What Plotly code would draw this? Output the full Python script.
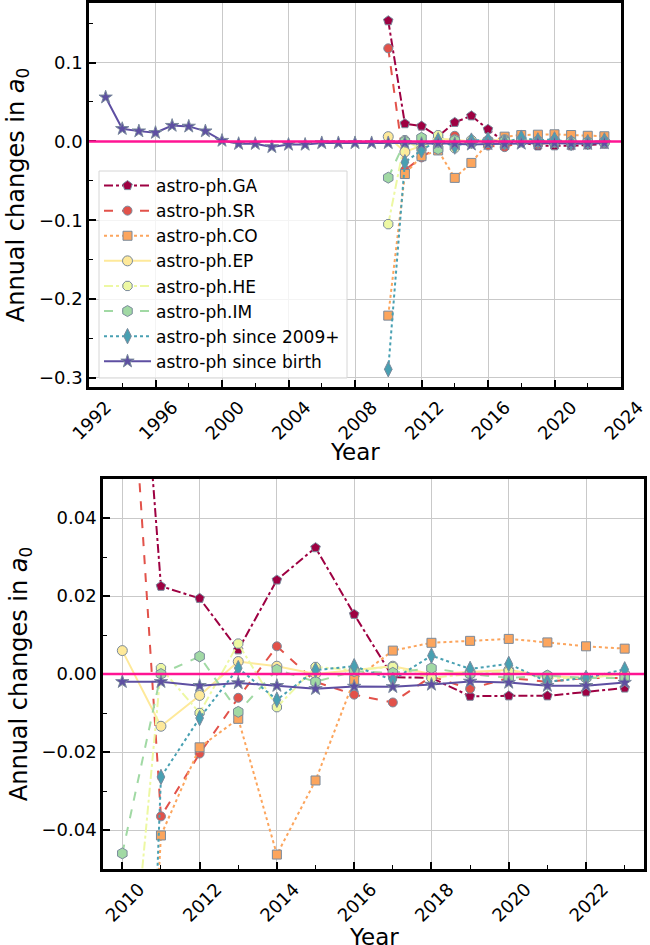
import plotly.graph_objects as go

# ---------------- data ----------------
years_birth = list(range(1993, 2024))
birth = [0.056, 0.016, 0.013, 0.011, 0.020, 0.019, 0.013, 0.001, -0.003, -0.003,
         -0.007, -0.004, -0.004, -0.002, -0.002, -0.002, -0.002,
         -0.002, -0.002, -0.003, -0.0023, -0.003, -0.0038, -0.0032, -0.0033,
         -0.0027, -0.0019, -0.0022, -0.003, -0.003, -0.0022]

years = list(range(2010, 2024))
ga = [0.153, 0.0225, 0.0194, 0.0062, 0.0241, 0.0324, 0.0153, -0.0008, -0.001,
      -0.0057, -0.0056, -0.0056, -0.0046, -0.0036]
sr = [0.118, -0.0365, -0.0204, -0.0061, 0.0071, -0.002, -0.0053, -0.0073, -0.0006,
      -0.0038, -0.001, -0.002, -0.001, -0.001]
co = [-0.221, -0.0414, -0.0188, -0.0115, -0.0463, -0.0273, -0.0015, 0.006, 0.008,
      0.0085, 0.009, 0.0081, 0.0071, 0.0065]
ep = [0.006, -0.0134, -0.0055, 0.0032, 0.002, 0.0, 0.001, 0.002, 0.0, 0.0005,
      0.001, -0.0005, -0.001, 0.0]
he = [-0.105, 0.0015, -0.010, 0.0078, -0.0085, 0.0018, 0.001, 0.0018, -0.001, 0.0,
      0.0007, -0.001, -0.001, 0.0]
im = [-0.046, 0.0, 0.0045, -0.0097, 0.0011, -0.002, 0.0007, 0.0003, 0.0015, 0.0,
      -0.001, -0.0004, -0.001, -0.001]
since2009 = [-0.289, -0.0264, -0.0113, 0.0015, -0.0066, 0.001, 0.002, -0.0015,
             0.0047, 0.0013, 0.0026, -0.002, -0.001, 0.0012]

names = ["astro-ph.GA", "astro-ph.SR", "astro-ph.CO", "astro-ph.EP", "astro-ph.HE",
         "astro-ph.IM", "astro-ph since 2009+", "astro-ph since birth"]
colors = ["#9e0142", "#e2524a", "#fca55d", "#fee99a", "#edf8a3", "#a1d9a4",
          "#48a0b2", "#5e4fa2"]
symbols = ["pentagon", "circle", "square", "circle", "octagon", "hexagon",
           "diamond-tall", "star"]
dashes = ["dashdot", "dash", "dot", "solid", "dashdot", "dash", "dot", "solid"]
msizes = [10, 9, 9, 10, 10, 11, 11, 10]

zero_level = 0.0
x_title = "Year"
y_title = "Annual changes in <i>a</i><sub>0</sub>"

series = [(years, ga), (years, sr), (years, co), (years, ep), (years, he),
          (years, im), (years, since2009), (years_birth, birth)]

FONT = "DejaVu Sans"
EDGE = "#7a8a9c"

fig = go.Figure()
for i, (xs, ys) in enumerate(series):
    for panel in (1, 2):
        if panel == 2 and xs is years_birth:
            xx = [x for x in xs if x >= 2010]
            yy = [y for x, y in zip(xs, ys) if x >= 2010]
        else:
            xx, yy = xs, ys
        fig.add_trace(go.Scatter(
            x=xx, y=yy, name=names[i], mode="lines+markers",
            line=dict(color=colors[i], width=2, dash=dashes[i]),
            marker=dict(symbol=symbols[i], size=msizes[i], color=colors[i],
                        line=dict(color=EDGE, width=1)),
            showlegend=(panel == 1),
            xaxis="x" if panel == 1 else "x2",
            yaxis="y" if panel == 1 else "y2",
        ))

axis_common = dict(
    showline=True, mirror=True, linewidth=2.5, linecolor="black",
    ticks="inside", ticklen=7, tickwidth=1.5, tickcolor="black",
    showgrid=True, gridcolor="#c9c9c9", gridwidth=1, zeroline=False,
    automargin=False,
    tickfont=dict(family=FONT, size=18, color="black"),
)

def minor(d):
    return dict(ticks="inside", ticklen=4, tickwidth=1.2, dtick=d,
                tickcolor="black", showgrid=False)

ytitle = dict(text=y_title, font=dict(family=FONT, size=24), standoff=8)

W, H = 650, 945
fig.update_layout(
    width=W, height=H,
    margin=dict(l=0, r=0, t=0, b=0),
    paper_bgcolor="white", plot_bgcolor="white",
    font=dict(family=FONT, color="black"),
    xaxis=dict(domain=[89/W, 621/W], range=[1992, 2024], dtick=4, tick0=1992,
               tickangle=-45, ticklabelshift=17, anchor="y", minor=minor(2),
               **axis_common),
    yaxis=dict(domain=[1-387/H, 1-3/H], range=[-0.3115, 0.1755], dtick=0.1,
               tickformat=".1f", anchor="x", minor=minor(0.05), title=ytitle,
               **axis_common),
    xaxis2=dict(domain=[103/W, 644/W], range=[2009.5, 2023.5], dtick=2, tick0=2010,
                tickangle=-45, ticklabelshift=17, anchor="y2", minor=minor(1),
                **axis_common),
    yaxis2=dict(domain=[1-869/H, 1-479/H], range=[-0.05, 0.05], dtick=0.02,
                tickformat=".2f", anchor="x2", minor=minor(0.01), title=ytitle,
                **axis_common),
    legend=dict(x=99/W, y=1-168/H, xanchor="left", yanchor="top",
                bgcolor="rgba(0,0,0,0)", borderwidth=0,
                font=dict(family=FONT, size=17, color="black"),
                itemwidth=47, tracegroupgap=0),
    annotations=[
        dict(text=x_title, xref="x domain", yref="paper", x=0.5, y=1-437/H,
             xanchor="center", yanchor="top", showarrow=False,
             font=dict(family=FONT, size=23, color="black")),
        dict(text=x_title, xref="x2 domain", yref="paper", x=0.5, y=1-922/H,
             xanchor="center", yanchor="top", showarrow=False,
             font=dict(family=FONT, size=23, color="black")),
    ],
    shapes=[
        dict(type="rect", xref="paper", yref="paper", x0=99/W, x1=347/W,
             y0=1-378/H, y1=1-171/H, fillcolor="rgba(255,255,255,0.8)",
             line=dict(color="#d6d6d6", width=1), layer="above"),
        dict(type="line", xref="x domain", x0=0, x1=1, yref="y", y0=zero_level,
             y1=zero_level, line=dict(color="#ff1493", width=2.5), layer="above"),
        dict(type="line", xref="x2 domain", x0=0, x1=1, yref="y2", y0=zero_level,
             y1=zero_level, line=dict(color="#ff1493", width=2.5), layer="above"),
    ],
)

fig.write_html("out.html")
